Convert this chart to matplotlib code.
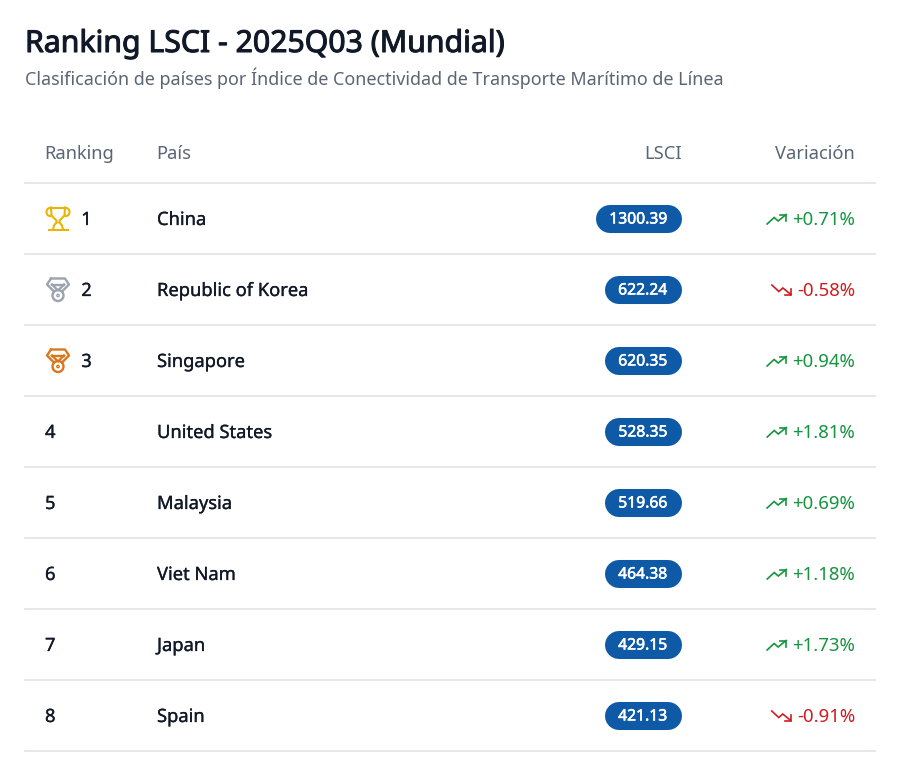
import matplotlib
matplotlib.use('Agg')
import matplotlib.pyplot as plt
import matplotlib.patheffects as pe
from matplotlib.patches import Arc, Circle

plt.rcParams['font.family'] = ['Noto Sans', 'DejaVu Sans']

# datos de la tabla
ranks = [1, 2, 3, 4, 5, 6, 7, 8]
countries = ['China', 'Republic of Korea', 'Singapore', 'United States',
             'Malaysia', 'Viet Nam', 'Japan', 'Spain']
lsci = [1300.39, 622.24, 620.35, 528.35, 519.66, 464.38, 429.15, 421.13]
variation = [0.71, -0.58, 0.94, 1.81, 0.69, 1.18, 1.73, -0.91]
headers = ['Ranking', 'País', 'LSCI', 'Variación']

GREEN = '#16943f'
RED = '#d01c1f'
BLUE = '#0f5aa6'
GRID = '#e3e5e8'
INK = '#111827'
GREY = '#5b6574'

ROW_H = 71
FIRST_LINE = 183

fig = plt.figure(figsize=(9, 7.66), dpi=100)
ax = fig.add_axes([0, 0, 1, 1])
ax.set_xlim(0, 900)
ax.set_ylim(766, 0)
ax.axis('off')


def trophy(cx, cy, color):
    lw = 1.5
    ax.plot([cx - 7, cx + 7], [cy - 11, cy - 11], color=color, lw=lw)
    ax.plot([cx - 7, cx - 6.5, cx - 1.5, cx - 1.5], [cy - 11, cy - 3, cy + 2, cy + 4], color=color, lw=lw)
    ax.plot([cx + 7, cx + 6.5, cx + 1.5, cx + 1.5], [cy - 11, cy - 3, cy + 2, cy + 4], color=color, lw=lw)
    ax.plot([cx - 1.5, cx - 4, cx - 5], [cy + 4, cy + 7, cy + 11], color=color, lw=lw)
    ax.plot([cx + 1.5, cx + 4, cx + 5], [cy + 4, cy + 7, cy + 11], color=color, lw=lw)
    ax.plot([cx - 9.5, cx + 9.5], [cy + 11, cy + 11], color=color, lw=lw)
    ax.add_patch(Arc((cx - 8, cy - 6.5), 7, 8, theta1=70, theta2=290, color=color, lw=lw))
    ax.add_patch(Arc((cx + 8, cy - 6.5), 7, 8, theta1=-110, theta2=110, color=color, lw=lw))


def medal(cx, cy, color):
    lw = 1.7
    ax.add_patch(Circle((cx, cy + 6), 5.5, fill=False, ec=color, lw=lw))
    ax.add_patch(Circle((cx, cy + 6), 1.2, fill=False, ec=color, lw=1))
    ax.plot([cx - 7, cx + 7, cx + 11, cx + 4], [cy - 11, cy - 11, cy - 5, cy + 2], color=color, lw=lw)
    ax.plot([cx - 7, cx - 11, cx - 4], [cy - 11, cy - 5, cy + 2], color=color, lw=lw)
    ax.plot([cx - 6, cx, cx + 6], [cy - 5, cy + 1, cy - 5], color=color, lw=lw)
    ax.plot([cx - 6, cx + 6], [cy - 5, cy - 5], color=color, lw=lw)


def arrow(x, cy, up, color):
    s = -1 if up else 1
    ax.plot([x, x + 7, x + 11, x + 19], [cy - s * 5, cy + s * 1.5, cy - s * 2, cy + s * 4.5],
            color=color, lw=1.2, solid_joinstyle='miter')
    ax.plot([x + 13, x + 19, x + 19], [cy + s * 4.5, cy + s * 4.5, cy - s * 1.5], color=color, lw=1.2,
            solid_joinstyle='miter')


# la fuente instalada solo trae peso normal: el trazo simula el seminegrita
def heavier(lw, color=INK):
    return [pe.withStroke(linewidth=lw, foreground=color)]


# título
ax.text(25, 44, 'Ranking LSCI - 2025Q03 (Mundial)', fontsize=21.75, color=INK,
        va='center', ha='left', path_effects=heavier(0.75))
ax.text(25, 78, 'Clasificación de países por Índice de Conectividad de Transporte Marítimo de Línea',
        fontsize=12.95, color=GREY, va='center', ha='left')

# cabecera
header_x = [44.5, 156.5, 682, 855]
header_ha = ['left', 'left', 'right', 'right']
for h, x, ha in zip(headers, header_x, header_ha):
    ax.text(x, 154, h, fontsize=13.2, color=GREY, va='center', ha=ha)

ax.plot([24, 876], [FIRST_LINE, FIRST_LINE], color=GRID, lw=1.3, solid_capstyle='butt')

fig.canvas.draw()
renderer = fig.canvas.get_renderer()

for i, rank in enumerate(ranks):
    y = FIRST_LINE + ROW_H * i + 35.5
    ax.plot([24, 876], [y + 35.5, y + 35.5], color=GRID, lw=1.3, solid_capstyle='butt')

    # posición e icono
    if rank == 1:
        trophy(58, y, '#eab308')
    elif rank == 2:
        medal(58, y, '#9ca3af')
    elif rank == 3:
        medal(58, y, '#d9771f')
    ax.text(86.5 if rank <= 3 else 45, y + 1.5, str(rank), fontsize=13.2, color=INK,
            va='center', ha='center' if rank <= 3 else 'left', path_effects=heavier(0.2))
    ax.text(157, y + 1.5, countries[i], fontsize=13.2, color=INK,
            va='center', ha='left', path_effects=heavier(0.2))

    # píldora con el valor
    label = ax.text(667.5, y + 1, f'{lsci[i]:.2f}', fontsize=11.3, color='white',
                    va='center', ha='right', zorder=3, path_effects=heavier(0.4, 'white'))
    w = label.get_window_extent(renderer).width
    left = 667.5 - w - 13.5
    ax.plot([left + 14, 682 - 14], [y, y], color=BLUE, lw=20.2, solid_capstyle='round', zorder=2)

    # variación
    v = variation[i]
    color = GREEN if v >= 0 else RED
    t = ax.text(855, y + 1.5, f'{v:+.2f}%', fontsize=13.4, color=color, va='center', ha='right')
    tw = t.get_window_extent(renderer).width
    arrow(855 - tw - 25, y + 0.5, v >= 0, color)

fig.savefig('out.png', dpi=100, facecolor='white')
